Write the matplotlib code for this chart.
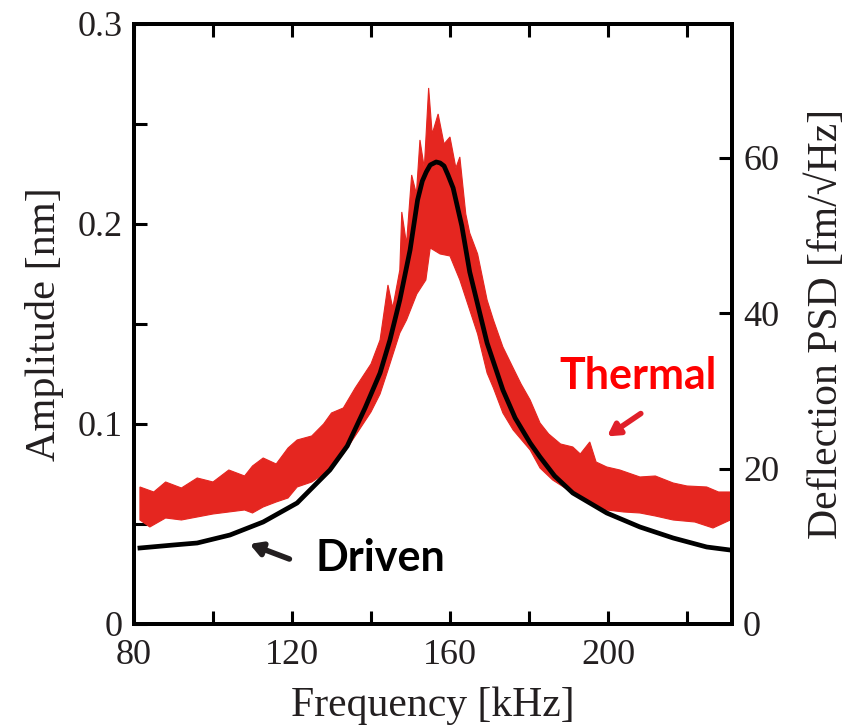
import matplotlib.pyplot as plt
import numpy as np

# frecuencia [kHz] y amplitud [nm]
driven_f = [81.5, 90, 96, 104.3, 112.7, 121.3, 129.6, 134, 138.5, 142.3, 144.8,
            147.3, 149.9, 151.8, 153, 154, 155, 156.5, 157.5, 158.5, 159.5,
            160.8, 163, 165, 169.4, 173.4, 176.5, 180.3, 182.8, 186.5, 191.1,
            199.7, 208.1, 216.5, 225, 230.9]
driven_a = [0.038, 0.0395, 0.0405, 0.0445, 0.051, 0.0605, 0.077, 0.089, 0.108,
            0.1255, 0.142, 0.162, 0.187, 0.212, 0.2215, 0.226, 0.2295, 0.231,
            0.2305, 0.229, 0.2245, 0.218, 0.199, 0.176, 0.1405, 0.117, 0.103,
            0.0905, 0.0835, 0.074, 0.0655, 0.0555, 0.0485, 0.043, 0.0385, 0.037]

# envolvente superior del ruido termico
thermal_hi_f = [81.5, 85, 88, 92, 96, 100, 104, 108, 110, 112.7, 116, 119,
                121.3, 125, 128, 130, 133, 136, 138, 140, 142.3, 144.3, 145.5,
                147.3, 147.8, 149, 150.3, 151.5, 152.4, 153.5, 154.6, 155.5,
                157, 158.5, 160, 161.5, 162.5, 164, 165, 167, 169.4, 171,
                173.4, 176, 178, 180.3, 182.8, 185, 188, 191.1, 193, 195.4,
                197, 199.7, 203, 208.1, 212, 216.5, 220, 225, 228, 231]
thermal_hi = [0.0685, 0.066, 0.071, 0.068, 0.073, 0.071, 0.077, 0.074, 0.079,
              0.083, 0.080, 0.088, 0.092, 0.094, 0.100, 0.1055, 0.108, 0.118,
              0.124, 0.130, 0.142, 0.1695, 0.158, 0.177, 0.206, 0.19, 0.2245,
              0.215, 0.242, 0.228, 0.268, 0.245, 0.255, 0.24, 0.2435, 0.228,
              0.2335, 0.205, 0.1955, 0.185, 0.162, 0.152, 0.1385, 0.128, 0.12,
              0.112, 0.1005, 0.095, 0.09, 0.0885, 0.085, 0.091, 0.081, 0.0785,
              0.077, 0.0735, 0.074, 0.0705, 0.069, 0.0685, 0.066, 0.066]

# envolvente inferior del ruido termico
thermal_lo_f = [81.5, 84, 88, 92, 96, 100, 104, 108, 110, 112.7, 116, 119,
                121.3, 125, 129.6, 133, 136, 138, 140, 142.3, 144.3, 147.3,
                149, 151.6, 153.9, 155, 157.5, 160, 162.5, 165, 167, 169.4,
                171, 173.4, 176, 180.3, 182.8, 186, 191.1, 195, 199.7, 204,
                208.1, 212, 216.5, 222, 226.6, 231]
thermal_lo = [0.052, 0.0485, 0.053, 0.052, 0.0535, 0.055, 0.056, 0.057,
              0.0555, 0.0585, 0.061, 0.063, 0.0685, 0.071, 0.077, 0.085,
              0.094, 0.10, 0.106, 0.115, 0.127, 0.1455, 0.152, 0.165, 0.172,
              0.188, 0.185, 0.184, 0.172, 0.157, 0.145, 0.1255, 0.118, 0.1055,
              0.097, 0.087, 0.078, 0.072, 0.0655, 0.061, 0.057, 0.056, 0.0555,
              0.054, 0.052, 0.051, 0.048, 0.052]

x_ticks = [80, 100, 120, 140, 160, 180, 200, 220]
x_labels = ['80', '', '120', '', '160', '', '200', '']
y_ticks = [0, 0.05, 0.1, 0.15, 0.2, 0.25, 0.3]
y_labels = ['0', '', '0.1', '', '0.2', '', '0.3']
psd_ticks = [0, 20, 40, 60]

TXT = '#231f20'
ROJO = '#e52620'

plt.rcParams['font.family'] = ['Liberation Serif', 'DejaVu Serif']

fig = plt.figure(figsize=(8.58, 7.26), dpi=100)
ax = fig.add_axes([0.1562, 0.1405, 0.6969, 0.8265])

poly_f = np.concatenate([thermal_hi_f, thermal_lo_f[::-1]])
poly_a = np.concatenate([thermal_hi, thermal_lo[::-1]])
ax.fill(poly_f, poly_a, color=ROJO, lw=0.8, zorder=2)
ax.plot(driven_f, driven_a, color='black', lw=3.4, zorder=3)

ax.set_xlim(80, 231.4)
ax.set_ylim(0, 0.3)
ax.set_xticks(x_ticks)
ax.set_xticklabels(x_labels)
ax.set_yticks(y_ticks)
ax.set_yticklabels(y_labels)
ax.tick_params(direction='in', length=9.5, width=2.2, labelsize=26,
               colors='black', labelcolor=TXT, top=True)
ax.tick_params(axis='x', pad=11)
ax.tick_params(axis='y', right=False, pad=8)
for s in ax.spines.values():
    s.set_linewidth(2.8)

ax.set_xlabel('Frequency [kHz]', fontsize=30, color=TXT, labelpad=10)
ax.set_ylabel('Amplitude [nm]', fontsize=30.5, color=TXT, labelpad=10)

ax2 = ax.twinx()
ax2.set_ylim(0, 0.3 * 1000 / 3.886)
ax2.set_yticks(psd_ticks)
ax2.tick_params(direction='in', length=9.5, width=2.2, labelsize=26,
                labelcolor=TXT, pad=8)
for s in ax2.spines.values():
    s.set_linewidth(2.8)
ax2.set_ylabel('Deflection PSD [fm/\u221aHz]', fontsize=30, color=TXT,
               labelpad=20)

ax.text(207.6, 0.124, 'Thermal', color='#ff0000', fontsize=31,
        fontweight='bold', family=['Lato', 'DejaVu Sans'],
        ha='center', va='center')
ax.annotate('', xy=(199.2, 0.093), xytext=(208.9, 0.106),
            arrowprops=dict(arrowstyle='-|>,head_length=0.7,head_width=0.4',
                            color='#e0202a', lw=4))
ax.text(142.3, 0.033, 'Driven', color='black', fontsize=31,
        fontweight='bold', family=['Lato', 'DejaVu Sans'],
        ha='center', va='center')
ax.annotate('', xy=(108.6, 0.0405), xytext=(120.0, 0.032),
            arrowprops=dict(arrowstyle='-|>,head_length=0.7,head_width=0.4',
                            color=TXT, lw=4))

fig.savefig('out.png', dpi=100)
